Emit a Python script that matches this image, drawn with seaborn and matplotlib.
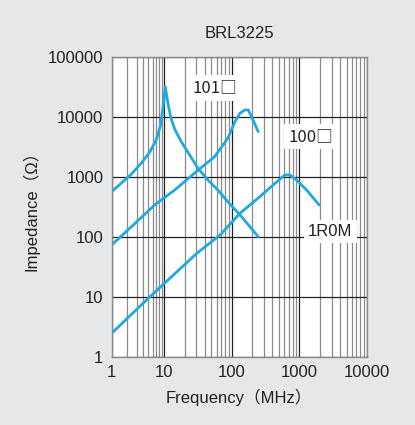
import numpy as np
import pandas as pd
import seaborn as sns
import matplotlib.pyplot as plt
from matplotlib.ticker import FixedLocator, NullFormatter

# impedance curves (MHz, ohm)
freq_101 = [1, 1.52, 2.36, 3.65, 5.28, 7.05, 8.54, 9.45, 10.35, 11.35, 12.45, 14.3,
            17.9, 23.8, 31.6, 44.5, 62.6, 83.2, 140, 247]
z_101 = [569, 785, 1110, 1690, 2580, 4140, 7360, 13960, 32000, 17000, 10000, 6300,
         3870, 2330, 1400, 891, 607, 414, 218, 101]

freq_100 = [1, 2.57, 6.57, 14.3, 29.9, 56, 88, 112, 133, 157, 176, 197, 247]
z_100 = [73.6, 158, 341, 607, 1225, 2180, 4420, 8350, 11530, 13090, 13090, 10120, 5690]

freq_1r0 = [1, 5.35, 30.5, 67.5, 133, 261, 411, 611, 724, 910, 1279, 1963]
z_1r0 = [2.48, 10.1, 53.5, 108, 248, 470, 736, 1080, 1080, 891, 607, 341]

x_ticks = [1, 10, 100, 1000, 10000]
y_ticks = [1, 10, 100, 1000, 10000, 100000]

# the printed chart does not space its frequency decades evenly
decade_log = [-10, 0, 1, 2, 3, 4, 14]
decade_pos = [-526, 0, 52.6, 120, 187.8, 255.3, 930.3]


def fwd(x):
    x = np.clip(np.asarray(x, dtype=float), 1e-12, None)
    return np.interp(np.log10(x), decade_log, decade_pos)


def inv(p):
    return 10 ** np.interp(np.asarray(p, dtype=float), decade_pos, decade_log)


frames = []
for name, f, z in [("101", freq_101, z_101), ("100", freq_100, z_100), ("1R0M", freq_1r0, z_1r0)]:
    frames.append(pd.DataFrame({"freq": f, "z": z, "part": name}))
df = pd.concat(frames, ignore_index=True)

sns.set_style("white")
plt.rcParams["font.family"] = ["Liberation Sans", "Noto Sans CJK JP", "DejaVu Sans"]

fig = plt.figure(figsize=(4.15, 4.25), dpi=100, facecolor="#e6e7e8")
ax = fig.add_axes([0.269, 0.16, 0.615, 0.706])

blue = "#1ea9e1"
sns.lineplot(data=df, x="freq", y="z", units="part", estimator=None, sort=False,
             color=blue, linewidth=2.0, ax=ax, legend=False)

ax.set_xscale("function", functions=(fwd, inv))
ax.set_yscale("log")
ax.set_xlim(1, 10000)
ax.set_ylim(1, 100000)

minor_x = [k * 10 ** d for d in range(4) for k in range(2, 10)]
ax.xaxis.set_major_locator(FixedLocator(x_ticks))
ax.set_xticklabels([str(t) for t in x_ticks])
ax.xaxis.set_minor_locator(FixedLocator(minor_x))
ax.xaxis.set_minor_formatter(NullFormatter())
ax.yaxis.set_major_locator(FixedLocator(y_ticks))
ax.set_yticklabels([str(t) for t in y_ticks])
ax.yaxis.set_minor_locator(FixedLocator([]))

ax.grid(True, which="major", axis="both", color="#222222", linewidth=0.9)
ax.grid(True, which="minor", axis="x", color="#8a8a8a", linewidth=0.9)
ax.set_axisbelow(True)
for s in ax.spines.values():
    s.set_color("#8a8a8a")
    s.set_linewidth(1.0)

ax.tick_params(axis="both", which="both", length=0, labelsize=12, colors="#222222", pad=6)

ax.set_xlabel("Frequency（MHz）", fontsize=12, color="#222222", labelpad=6)
ax.set_ylabel("Impedance（Ω）", fontsize=12, color="#222222", labelpad=6)
ax.set_title("BRL3225", fontsize=12, color="#222222", pad=14)

box = dict(facecolor="white", edgecolor="none", pad=3)
cjk = ["Noto Sans CJK JP", "DejaVu Sans"]
ax.text(56.5, 30400, "101□", fontsize=12, color="#222222", ha="center", va="center",
        bbox=box, family=cjk)
ax.text(1456, 4700, "100□", fontsize=12, color="#222222", ha="center", va="center",
        bbox=box, family=cjk)
ax.text(2880, 123, "1R0M", fontsize=12, color="#222222", ha="center", va="center", bbox=box)

fig.savefig("out.png", dpi=100, facecolor=fig.get_facecolor())
